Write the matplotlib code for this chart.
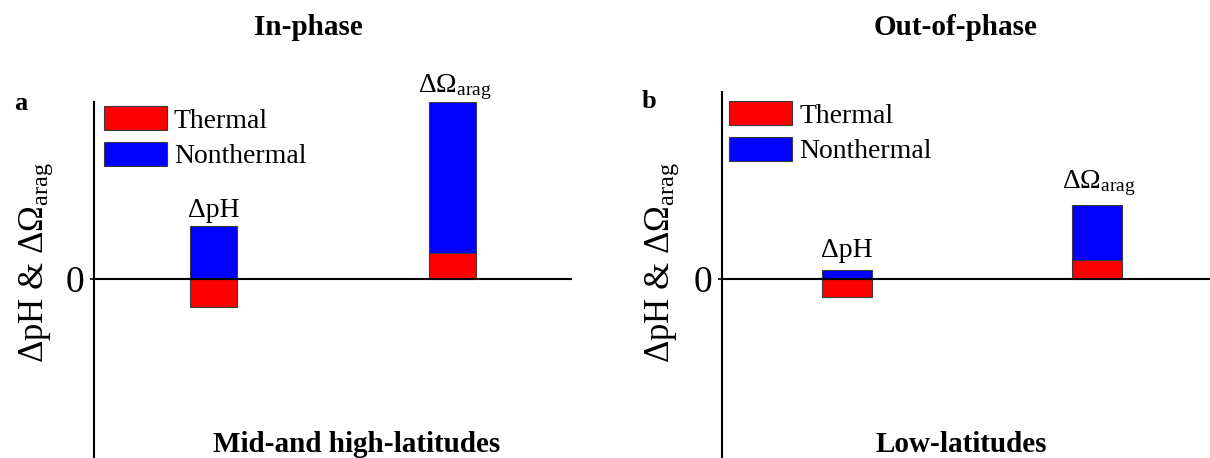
import numpy as np
import matplotlib
matplotlib.use("Agg")
import matplotlib.pyplot as plt
from matplotlib.patches import Patch

plt.rcParams['font.family'] = ['Liberation Serif', 'DejaVu Serif']
plt.rcParams['mathtext.fontset'] = 'custom'
plt.rcParams['mathtext.rm'] = 'Liberation Serif'
plt.rcParams['mathtext.it'] = 'Liberation Serif:italic'
plt.rcParams['mathtext.bf'] = 'Liberation Serif:bold'

# valori estimate din figura (unitati arbitrare)
categorii = ["ΔpH", r"$\Delta\Omega_{\rm arag}$"]
pozitii = [1, 3]
termic_a = [-28, 26]
netermic_a = [53, 151]
termic_b = [-18, 19]
netermic_b = [9, 55]

titluri = ["In-phase", "Out-of-phase"]
regiuni = ["Mid-and high-latitudes", "Low-latitudes"]
litere = ["a", "b"]
legenda = ["Thermal", "Nonthermal"]
eticheta_y = "ΔpH & $\\Delta\\Omega_{\\rm arag}$"

rosu = "#ff0000"
albastru = "#0000ff"
margine = "#3a3a3a"

W, H = 1210, 458
fig = plt.figure(figsize=(W / 100, H / 100), dpi=100)


def px(x0, y0, x1, y1):
    # dreptunghi in pixeli -> coordonate figura
    return [x0 / W, 1 - y1 / H, (x1 - x0) / W, (y1 - y0) / H]


ax_a = fig.add_axes(px(94, 102, 572, 458))
ax_b = fig.add_axes(px(722, 92, 1210, 458))


def panou(ax, termic, netermic, xlim, ylim, offs):
    for i, x in enumerate(pozitii):
        t = termic[i]
        n = netermic[i]
        ax.bar(x, t, width=0.4, color=rosu, edgecolor=margine, linewidth=0.8, zorder=2)
        # netermic: pe zero daca termicul e negativ, altfel stivuit
        baza = t if t > 0 else 0
        ax.bar(x, n, bottom=baza, width=0.4, color=albastru, edgecolor=margine,
               linewidth=0.8, zorder=2)
        top = baza + n
        ax.annotate(categorii[i], (x, top), xytext=(2 if i else 0, offs[i]),
                    textcoords="offset pixels", ha="center", va="baseline", fontsize=20)
    ax.axhline(0, color="black", lw=1.5, zorder=3)
    ax.set_xlim(*xlim)
    ax.set_ylim(*ylim)
    for s in ["top", "right", "bottom"]:
        ax.spines[s].set_visible(False)
    ax.spines["left"].set_linewidth(1.5)
    ax.set_xticks([])
    ax.set_yticks([0])
    ax.set_yticklabels(["0"])
    ax.tick_params(axis="y", length=3, width=1.2, labelsize=27, pad=4)


panou(ax_a, termic_a, netermic_a, (0, 4.0), (-179, 177), (9, 10))
panou(ax_b, termic_b, netermic_b, (0, 3.9), (-179, 187), (13, 17))

for ax, x0, y0 in [(ax_a, 104, 106), (ax_b, 729, 101)]:
    h = [Patch(facecolor=rosu, edgecolor=margine, linewidth=0.8),
         Patch(facecolor=albastru, edgecolor=margine, linewidth=0.8)]
    ax.legend(h, legenda, loc="upper left", frameon=False, fontsize=20,
              handlelength=2.27, handleheight=0.95, labelspacing=0.3,
              handletextpad=0.25, borderpad=0, borderaxespad=0,
              bbox_to_anchor=(x0 / W, 1 - y0 / H),
              bbox_transform=fig.transFigure)

# titluri si etichete
fig.text(308 / W, 1 - 35 / H, titluri[0], ha="center", va="baseline", fontsize=21, fontweight="bold")
fig.text(956 / W, 1 - 35 / H, titluri[1], ha="center", va="baseline", fontsize=21, fontweight="bold")
fig.text(357 / W, 1 - 452 / H, regiuni[0], ha="center", va="baseline", fontsize=21, fontweight="bold")
fig.text(961 / W, 1 - 452 / H, regiuni[1], ha="center", va="baseline", fontsize=21, fontweight="bold")
fig.text(21 / W, 1 - 110 / H, litere[0], ha="center", va="baseline", fontsize=19, fontweight="bold")
fig.text(649 / W, 1 - 108 / H, litere[1], ha="center", va="baseline", fontsize=19, fontweight="bold")
fig.text(36 / W, 1 - 262 / H, eticheta_y, ha="center", va="center", rotation=90, fontsize=25)
fig.text(662 / W, 1 - 262 / H, eticheta_y, ha="center", va="center", rotation=90, fontsize=25)

fig.savefig("out.png", dpi=100)
